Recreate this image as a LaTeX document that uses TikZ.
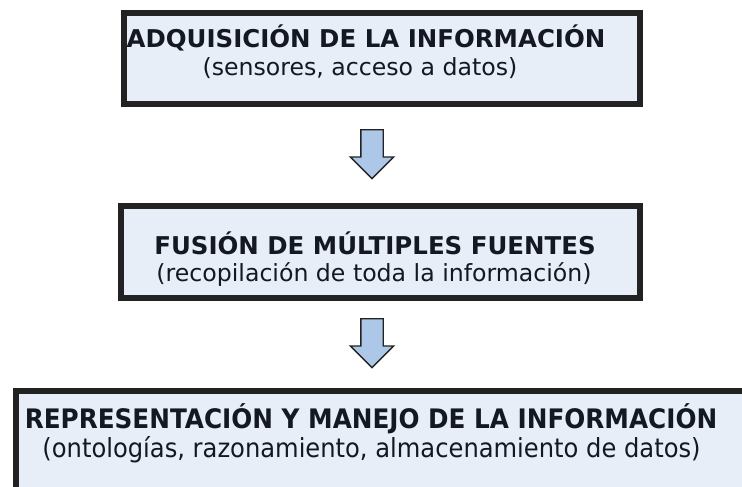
\documentclass[tikz,border=0pt]{standalone}
\usepackage{fontspec}
\setmainfont{DejaVu Sans}
\newfontfamily\narrowfont[FakeStretch=0.92]{DejaVu Sans}
\usetikzlibrary{shapes.arrows, positioning}
\definecolor{boxfill}{RGB}{231,238,248}
\definecolor{boxline}{RGB}{34,34,34}
\definecolor{arrowfill}{RGB}{172,199,232}
\definecolor{textdark}{RGB}{20,24,35}
\tikzset{
    stagebox/.style={
        draw=boxline, fill=boxfill, line width=4.3pt, inner sep=0pt, anchor=center
    },
    headtext/.style={
        font=\fontsize{17.4}{20}\selectfont\bfseries, text=textdark, anchor=base, inner sep=0pt
    },
    subtext/.style={
        font=\fontsize{16.8}{20}\selectfont, text=textdark, anchor=base, inner sep=0pt
    },
    downarrow/.style={
        single arrow, draw=boxline, fill=arrowfill, line width=1pt,
        minimum height=1.225cm, inner xsep=0pt, inner ysep=0.2625cm,
        single arrow head extend=0.2625cm,
        rotate=-90, anchor=tail
    }
}
\begin{document}
\begin{tikzpicture}[x=0.025cm, y=-0.025cm]
    \useasboundingbox (0,0) rectangle (742,486);
    \clip (0,0) rectangle (742,486);

    % --- caja 1: adquisicion ---
    \node[stagebox, minimum width=12.9cm, minimum height=2.275cm] (box1) at (382,58.5) {};
    \node[headtext] (head1) at (366,48) {ADQUISICIÓN DE LA INFORMACIÓN};
    \node[subtext] (sub1) at (360,76) {(sensores, acceso a datos)};

    % --- caja 2: fusion ---
    \node[stagebox, minimum width=12.975cm, minimum height=2.3cm] (box2) at (380.5,252) {};
    \node[headtext] (head2) at (375,254) {FUSIÓN DE MÚLTIPLES FUENTES};
    \node[subtext] (sub2) at (374,281) {(recopilación de toda la información)};

    % --- caja 3: representacion (cortada por el borde) ---
    \node[stagebox, minimum width=18.6cm, minimum height=2.725cm] (box3) at (388,445.5) {};
    \node[headtext, font=\fontsize{19.1}{22}\selectfont\narrowfont\bfseries] (head3) at (371,428) {REPRESENTACIÓN Y MANEJO DE LA INFORMACIÓN};
    \node[subtext, font=\fontsize{18.7}{22}\selectfont\narrowfont] (sub3) at (371.5,457) {(ontologías, razonamiento, almacenamiento de datos)};

    % --- flechas entre pasos ---
    \node[downarrow] (step1) at (372,129) {};
    \node[downarrow] (step2) at (372,318) {};
\end{tikzpicture}
\end{document}
